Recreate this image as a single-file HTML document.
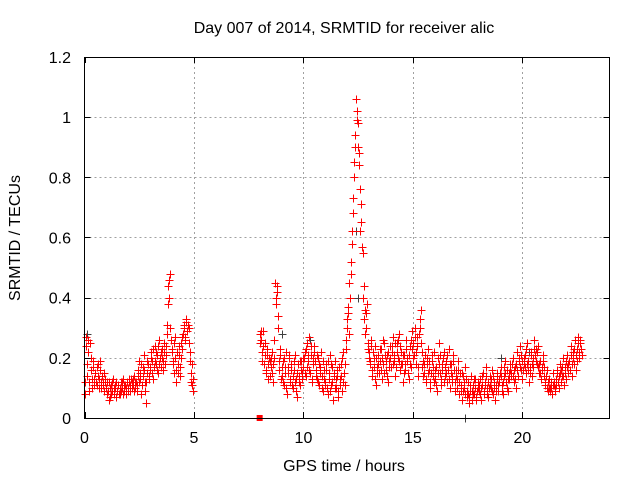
<!DOCTYPE html>
<html><head><meta charset="utf-8"><style>
html,body{margin:0;padding:0;background:#fff;}
svg text{font-family:"Liberation Sans",sans-serif;font-size:16px;fill:#000;}
</style></head><body>
<svg id="chart" width="640" height="480" viewBox="0 0 640 480" xmlns="http://www.w3.org/2000/svg">
<rect width="640" height="480" fill="#fff"/>
<g id="grid"></g>
<g id="pts"></g>
<rect x="84.5" y="57.5" width="525" height="361" fill="none" stroke="#000" stroke-width="1"/>
<g id="ticks"></g>
<text x="344" y="33" text-anchor="middle">Day 007 of 2014, SRMTID for receiver alic</text>
<text x="344" y="471" text-anchor="middle">GPS time / hours</text>
<text x="20" y="238" text-anchor="middle" transform="rotate(-90 20 238)">SRMTID / TECUs</text>
</svg>
<script>
const xTicks=[0,5,10,15,20];
const yTicks=[0,0.2,0.4,0.6,0.8,1,1.2];
const yTickLabels=["0","0.2","0.4","0.6","0.8","1","1.2"];
const seg1Start=0, seg2Start=8.0, step=0.05, halfStep=0.025;
const seg1Values=[0.08,0.27,0.14,0.22,0.12,0.25,0.16,0.10,0.19,0.13,
0.15,0.11,0.18,0.13,0.16,0.10,0.14,0.12,0.09,0.13,
0.10,0.08,0.12,0.07,0.11,0.09,0.13,0.08,0.10,0.12,
0.09,0.11,0.08,0.12,0.10,0.13,0.09,0.11,0.08,0.12,
0.10,0.13,0.09,0.12,0.11,0.14,0.10,0.12,0.09,0.16,
0.19,0.13,0.08,0.17,0.21,0.12,0.05,0.15,0.18,0.14,
0.16,0.22,0.19,0.13,0.24,0.18,0.21,0.15,0.26,0.20,
0.17,0.23,0.19,0.25,0.21,0.31,0.38,0.46,0.48,0.26,
0.22,0.19,0.15,0.27,0.12,0.18,0.24,0.14,0.20,0.23,
0.28,0.31,0.26,0.32,0.29,0.30,0.22,0.12,0.18,0.09];
const seg1BValues=[0.12,0.24,0.18,0.26,0.09,0.20,0.13,0.17,0.11,0.15,
0.12,0.17,0.14,0.10,0.19,0.12,0.11,0.15,0.12,0.10,
0.12,0.09,0.06,0.10,0.08,0.12,0.10,0.11,0.07,0.09,
0.11,0.08,0.10,0.09,0.12,0.08,0.11,0.10,0.12,0.09,
0.12,0.11,0.13,0.10,0.13,0.09,0.12,0.11,0.14,0.12,
0.15,0.18,0.11,0.14,0.16,0.09,0.12,0.19,0.13,0.17,
0.20,0.15,0.23,0.17,0.19,0.22,0.16,0.24,0.18,0.22,
0.20,0.16,0.22,0.18,0.24,0.28,0.44,0.40,0.30,0.23,
0.18,0.25,0.20,0.16,0.22,0.15,0.21,0.17,0.25,0.27,
0.30,0.27,0.33,0.29,0.31,0.25,0.19,0.15,0.11,0.13];
const seg2Values=[0.28,0.26,0.22,0.29,0.18,0.25,0.15,0.21,0.13,0.19,
0.17,0.22,0.12,0.20,0.45,0.38,0.42,0.34,0.16,0.21,
0.14,0.19,0.11,0.17,0.22,0.08,0.15,0.20,0.12,0.18,
0.10,0.16,0.21,0.13,0.07,0.18,0.14,0.11,0.19,0.15,
0.17,0.22,0.14,0.25,0.19,0.27,0.15,0.21,0.12,0.18,
0.24,0.16,0.13,0.20,0.11,0.17,0.22,0.14,0.09,0.16,
0.12,0.18,0.08,0.15,0.21,0.11,0.17,0.06,0.14,0.19,
0.10,0.16,0.07,0.13,0.18,0.09,0.22,0.15,0.11,0.26,
0.30,0.37,0.45,0.52,0.58,0.68,0.80,0.90,1.06,1.02,
0.98,0.88,0.76,0.65,0.55,0.44,0.36,0.30,0.38,0.25,
0.22,0.18,0.26,0.14,0.20,0.24,0.11,0.17,0.21,0.15,
0.19,0.23,0.13,0.18,0.25,0.16,0.21,0.12,0.19,0.24,
0.17,0.22,0.27,0.19,0.14,0.25,0.20,0.28,0.16,0.22,
0.18,0.12,0.21,0.16,0.26,0.19,0.13,0.24,0.17,0.29,
0.25,0.21,0.30,0.18,0.27,0.14,0.33,0.36,0.22,0.19,
0.15,0.21,0.12,0.18,0.23,0.16,0.10,0.19,0.14,0.22,
0.13,0.17,0.09,0.20,0.25,0.15,0.11,0.18,0.22,0.14,
0.19,0.12,0.16,0.23,0.10,0.18,0.14,0.21,0.09,0.16,
0.13,0.19,0.08,0.15,0.11,0.06,0.14,0.10,0.17,0.07,
0.12,0.05,0.09,0.14,0.06,0.11,0.08,0.13,0.07,0.10,
0.09,0.13,0.06,0.11,0.15,0.08,0.12,0.17,0.10,0.07,
0.14,0.10,0.16,0.08,0.12,0.06,0.11,0.15,0.09,0.13,
0.17,0.11,0.08,0.14,0.19,0.12,0.16,0.09,0.13,0.18,
0.15,0.20,0.12,0.17,0.10,0.22,0.14,0.19,0.24,0.16,
0.13,0.18,0.21,0.15,0.25,0.19,0.12,0.17,0.22,0.14,
0.20,0.26,0.23,0.18,0.24,0.15,0.19,0.13,0.17,0.21,
0.14,0.11,0.16,0.09,0.13,0.10,0.12,0.08,0.15,0.11,
0.09,0.13,0.16,0.10,0.18,0.12,0.14,0.20,0.11,0.17,
0.13,0.21,0.15,0.19,0.24,0.14,0.22,0.18,0.26,0.16,
0.23,0.27,0.20,0.25,0.21];
const seg2BValues=[0.25,0.29,0.19,0.24,0.21,0.16,0.23,0.18,0.20,0.14,
0.20,0.15,0.18,0.26,0.40,0.44,0.30,0.19,0.23,0.13,
0.17,0.12,0.20,0.15,0.10,0.17,0.21,0.13,0.16,0.11,
0.14,0.19,0.12,0.09,0.15,0.12,0.19,0.16,0.13,0.20,
0.20,0.15,0.23,0.17,0.21,0.16,0.24,0.13,0.20,0.22,
0.19,0.14,0.21,0.12,0.18,0.15,0.10,0.19,0.13,0.11,
0.16,0.10,0.19,0.13,0.09,0.18,0.12,0.15,0.10,0.13,
0.14,0.09,0.17,0.11,0.14,0.20,0.12,0.18,0.23,0.33,
0.35,0.28,0.40,0.48,0.62,0.73,0.85,0.94,0.99,0.90,
0.84,0.62,0.71,0.57,0.40,0.33,0.28,0.35,0.23,0.20,
0.19,0.24,0.16,0.22,0.17,0.13,0.20,0.15,0.18,0.23,
0.16,0.20,0.26,0.15,0.21,0.19,0.14,0.22,0.17,0.20,
0.24,0.18,0.21,0.25,0.17,0.22,0.26,0.19,0.24,0.18,
0.21,0.15,0.18,0.23,0.20,0.15,0.21,0.18,0.26,0.23,
0.20,0.27,0.22,0.24,0.17,0.28,0.30,0.25,0.17,0.14,
0.18,0.13,0.20,0.15,0.19,0.12,0.15,0.21,0.17,0.12,
0.16,0.11,0.15,0.18,0.21,0.13,0.16,0.20,0.12,0.17,
0.15,0.21,0.13,0.18,0.15,0.12,0.19,0.16,0.12,0.14,
0.10,0.16,0.12,0.09,0.15,0.09,0.12,0.08,0.13,0.09,
0.08,0.07,0.11,0.09,0.08,0.13,0.10,0.06,0.09,0.12,
0.11,0.08,0.10,0.14,0.09,0.11,0.14,0.08,0.12,0.10,
0.11,0.13,0.09,0.14,0.10,0.09,0.13,0.11,0.12,0.15,
0.14,0.09,0.12,0.17,0.15,0.10,0.13,0.15,0.16,0.14,
0.18,0.14,0.16,0.13,0.18,0.16,0.20,0.17,0.21,0.19,
0.16,0.20,0.17,0.23,0.18,0.16,0.15,0.21,0.18,0.17,
0.23,0.21,0.19,0.22,0.17,0.18,0.15,0.16,0.19,0.17,
0.12,0.14,0.10,0.12,0.10,0.09,0.10,0.11,0.12,0.10,
0.11,0.15,0.12,0.14,0.15,0.16,0.17,0.14,0.15,0.19,
0.17,0.18,0.19,0.16,0.21,0.18,0.20,0.23,0.21,0.19,
0.25,0.22,0.26,0.23];
const greyTimes=[0.1,9.0,10.3,12.4,12.5,17.4,19.0,20.3];
const greyValues=[0.28,0.28,0.26,0.62,0.40,0.0,0.20,0.22];
const markerTimes=[8.0];
const markerValues=[0.0];

const NS="http://www.w3.org/2000/svg";
const X=t=>84.5+t*(525.5/24);
const Y=v=>418-v*(361/1.2);
const grid=document.getElementById('grid'),ticks=document.getElementById('ticks'),pts=document.getElementById('pts');
function mk(tag,attrs,parent){const e=document.createElementNS(NS,tag);for(const k in attrs)e.setAttribute(k,attrs[k]);parent.appendChild(e);return e;}
xTicks.forEach(t=>{
  const x=Math.round(X(t))+0.5;
  if(t>0){const g=mk('line',{x1:x,x2:x,y1:57,y2:418,stroke:'#a0a0a0','stroke-dasharray':'2,3'},grid);
  
  }
  const l1=mk('line',{x1:x,x2:x,y1:418,y2:412,stroke:'#000'},ticks);
  
  
  const l2=mk('line',{x1:x,x2:x,y1:57,y2:63,stroke:'#000'},ticks);
  
  
  const tx=mk('text',{x:X(t),y:443,'text-anchor':'middle'},ticks);tx.textContent=t;
  
  
});
yTicks.forEach((v,i)=>{
  const y=Math.round(Y(v))+0.5;
  if(v>0&&v<1.2){const g=mk('line',{x1:84.5,x2:609.5,y1:y,y2:y,stroke:'#a0a0a0','stroke-dasharray':'2,3'},grid);
  
  }
  const l1=mk('line',{x1:84.5,x2:90.5,y1:y,y2:y,stroke:'#000'},ticks);
  
  
  const l2=mk('line',{x1:603.5,x2:609.5,y1:y,y2:y,stroke:'#000'},ticks);
  
  
  const tx=mk('text',{x:71,y:Y(v)+6,'text-anchor':'end'},ticks);tx.textContent=yTickLabels[i];
  
  
});
function plus(t,v,color,name){
  const x=Math.round(X(t))+0.5,y=Math.round(Y(v))+0.5;
  const p=mk('path',{d:`M${x-4},${y}H${x+4}M${x},${y-4}V${y+4}`,stroke:color,'stroke-width':1,fill:'none','shape-rendering':'crispEdges'},pts);
  
  
}
greyValues.forEach((v,i)=>plus(greyTimes[i],v,'#404040','grey-point'));
seg1Values.forEach((v,i)=>plus(seg1Start+i*step,v,'#ff0000','srmtid-point'));
seg1BValues.forEach((v,i)=>plus(seg1Start+halfStep+i*step,v,'#ff0000','srmtid-point'));
seg2Values.forEach((v,i)=>plus(seg2Start+i*step,v,'#ff0000','srmtid-point'));
seg2BValues.forEach((v,i)=>plus(seg2Start+halfStep+i*step,v,'#ff0000','srmtid-point'));
markerValues.forEach((v,i)=>{
  const r=mk('rect',{x:X(markerTimes[i])-3,y:Y(v)-3,width:6,height:6,fill:'#ff0000'},pts);
  
  
});
</script>
</body></html>
